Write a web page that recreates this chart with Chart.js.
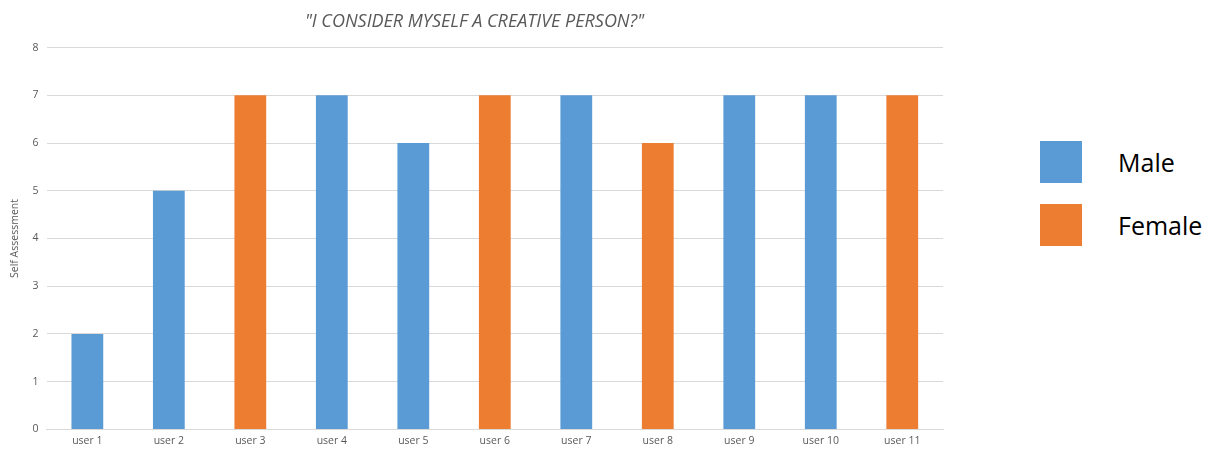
<!DOCTYPE html>
<html>
<head>
<meta charset="utf-8">
<script src="https://cdn.jsdelivr.net/npm/chart.js@4"></script>
<style>
  body { margin: 0; background: #fff; }
  #wrap { position: relative; width: 1215px; height: 452px; }
  #chartBox { position: absolute; left: 0; top: 0; width: 950px; height: 452px; }
  #legend { position: absolute; left: 1040px; top: 141px; font-family: "Open Sans", sans-serif; }
  .item { display: flex; align-items: center; height: 42px; margin-bottom: 21px; }
  .box { width: 42px; height: 42px; margin-right: 36px; }
  .lbl { font-size: 25px; color: #000; }
</style>
</head>
<body>
<div id="wrap">
  <div id="chartBox"><canvas id="creativeChart"></canvas></div>
  <div id="legend"></div>
</div>
<script>
// survey answers, one bar per user
const users = ["user 1","user 2","user 3","user 4","user 5","user 6","user 7","user 8","user 9","user 10","user 11"];
const maleScores = [2, 5, null, 7, 6, null, 7, null, 7, 7, null];
const femaleScores = [null, null, 7, null, null, 7, null, 6, null, null, 7];
const yTicks = [0, 1, 2, 3, 4, 5, 6, 7, 8];

const maleColor = "#5b9bd5";
const femaleColor = "#ed7d31";
const gray = "#595959";

const chart = new Chart(document.getElementById("creativeChart"), {
    type: "bar",
    data: {
        labels: users,
        datasets: [
            { label: "Male", data: maleScores, backgroundColor: maleColor },
            { label: "Female", data: femaleScores, backgroundColor: femaleColor }
        ]
    },
    options: {
        responsive: true,
        maintainAspectRatio: false,
        animation: false,
        barPercentage: 0.39,
        categoryPercentage: 1,
        layout: { padding: { left: 6, right: 7, top: 8, bottom: 0 } },
        plugins: {
            legend: { display: false },
            tooltip: { enabled: false },
            title: {
                display: true,
                text: "\"I CONSIDER MYSELF A CREATIVE PERSON?\"",
                color: gray,
                font: { family: "Open Sans", size: 18, style: "italic", weight: "normal" },
                padding: { top: 3, bottom: 15 }
            }
        },
        scales: {
            x: {
                stacked: true,
                grid: { display: false, drawTicks: false },
                border: { color: "#d9d9d9" },
                ticks: { color: gray, font: { family: "Open Sans", size: 10.5 }, padding: 5 }
            },
            y: {
                stacked: true,
                min: yTicks[0],
                max: yTicks[yTicks.length - 1],
                afterBuildTicks: axis => { axis.ticks = yTicks.map(v => ({ value: v })); },
                grid: { color: "#d9d9d9", drawTicks: false },
                border: { display: false },
                ticks: { color: gray, font: { family: "Open Sans", size: 10.5 }, padding: 8 },
                title: {
                    display: true,
                    text: "Self Assessment",
                    color: gray,
                    font: { family: "Open Sans", size: 10.5 },
                    padding: 3
                }
            }
        }
    }
});

// legend drawn from the datasets
const legend = document.getElementById("legend");
chart.data.datasets.forEach(ds => {
    const item = document.createElement("div");
    item.className = "item";
    item.innerHTML = '<div class="box" style="background:' + ds.backgroundColor + '"></div><span class="lbl">' + ds.label + '</span>';
    legend.appendChild(item);
});
</script>
</body>
</html>
